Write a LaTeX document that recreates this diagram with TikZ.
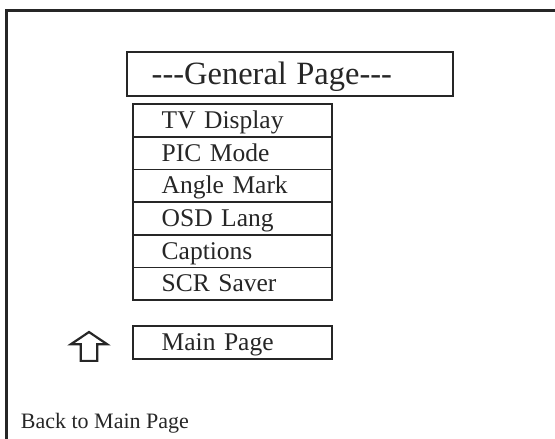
\documentclass[tikz,border=0pt]{standalone}
\usepackage{fontspec}
\setmainfont{Liberation Serif}
\usetikzlibrary{positioning}
\colorlet{ink}{black!85}

\begin{document}
\begin{tikzpicture}[x=1pt, y=-1pt, line width=1.8pt,
    menubox/.style={draw=ink, text=ink, outer sep=0pt, inner xsep=29pt,
      inner ysep=0pt, minimum height=32.7pt, text width=141.3pt, align=left,
      text height=16pt, text depth=0pt, font=\fontsize{25.5}{30}\selectfont},
    titlebox/.style={menubox, minimum height=43.7pt, inner xsep=25pt,
      text width=276.6pt, text height=21pt, font=\fontsize{32.5}{38}\selectfont}]
  \useasboundingbox (0,0) rectangle (555,439);
  \draw[ink, line width=2.4pt] (6.3,439) |- (555,10.5);

  \node[titlebox] (title) at (290,74.2) {-{}-{}-General\hspace{-1.5pt} Page-{}-{}-};

  \node[menubox] (tv) at (232.35,120.35) {TV Display};
  \node[menubox, below=0pt of tv] (pic) {PIC Mode};
  \node[menubox, below=0pt of pic] (angle) {Angle Mark};
  \node[menubox, below=0pt of angle] (osd) {OSD Lang};
  \node[menubox, below=0pt of osd] (captions) {Captions};
  \node[menubox, below=0pt of captions] (scr) {SCR Saver};

  \node[menubox, below=26pt of scr] (main) {Main Page};

  % up arrow beside the main page entry
  \coordinate[left=43.7pt of main.west] (up);
  \draw[ink, line width=2.2pt, shift={(up)}] (0,-10.5) -- (18,1.6) -- (8.2,1.6)
    -- (8.2,18.3) -- (-8.2,18.3) -- (-8.2,1.6) -- (-18,1.6) -- cycle;

  \node[anchor=base west, inner sep=0pt, text=ink,
    font=\fontsize{22}{26}\selectfont] (back) at (20,428.3) {Back to Main Page};
\end{tikzpicture}
\end{document}
